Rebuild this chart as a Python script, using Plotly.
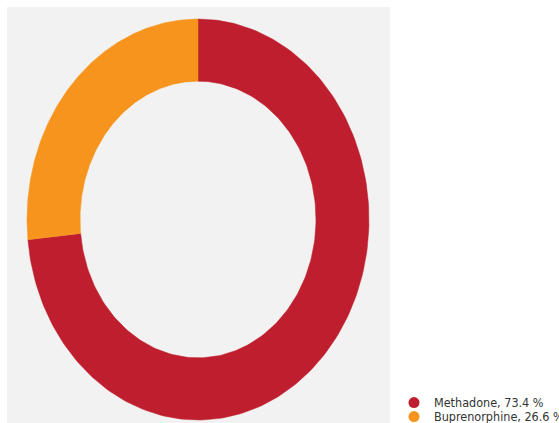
import numpy as np
import plotly.graph_objects as go

labels = ["Methadone", "Buprenorphine"]
values = [73.4, 26.6]
colors = ["#BE1E2D", "#F7941D"]
hole = 0.69

fig = go.Figure()
total = sum(values)
cum = 0.0
legend_ids = ["legend", "legend2"]
for lab, val, col, lg in zip(labels, values, colors, legend_ids):
    a0 = np.pi / 2 - 2 * np.pi * cum / total
    a1 = np.pi / 2 - 2 * np.pi * (cum + val) / total
    cum += val
    t = np.linspace(a0, a1, 200)
    xs = np.concatenate([np.cos(t), hole * np.cos(t[::-1]), [np.cos(t[0])]])
    ys = np.concatenate([np.sin(t), hole * np.sin(t[::-1]), [np.sin(t[0])]])
    fig.add_trace(go.Scatter(
        x=xs, y=ys, mode="lines", fill="toself", fillcolor=col,
        line=dict(color=col, width=0.5), showlegend=False,
        hoverinfo="text", text=f"{lab}: {val} %", hoveron="fills",
    ))
    fig.add_trace(go.Scatter(
        x=[None], y=[None], mode="markers", name=f"{lab}, {val} %",
        marker=dict(color=col, size=11, symbol="circle"), legend=lg,
    ))

leg_font = dict(family="DejaVu Sans Condensed, DejaVu Sans, Arial", size=12.5, color="#333333")
fig.update_layout(
    width=559, height=423,
    margin=dict(l=7, r=169, t=7, b=0, autoexpand=False),
    paper_bgcolor="white", plot_bgcolor="#F2F2F2",
    xaxis=dict(range=[-1.117, 1.123], visible=False, fixedrange=True),
    yaxis=dict(range=[-1.015, 1.06], visible=False, fixedrange=True),
    legend=dict(x=1.0104, y=0.0842, xanchor="left", yanchor="top",
                font=leg_font, bgcolor="rgba(0,0,0,0)"),
    legend2=dict(x=1.0104, y=0.0505, xanchor="left", yanchor="top",
                 font=leg_font, bgcolor="rgba(0,0,0,0)"),
    showlegend=True,
)
fig.write_html("out.html")
